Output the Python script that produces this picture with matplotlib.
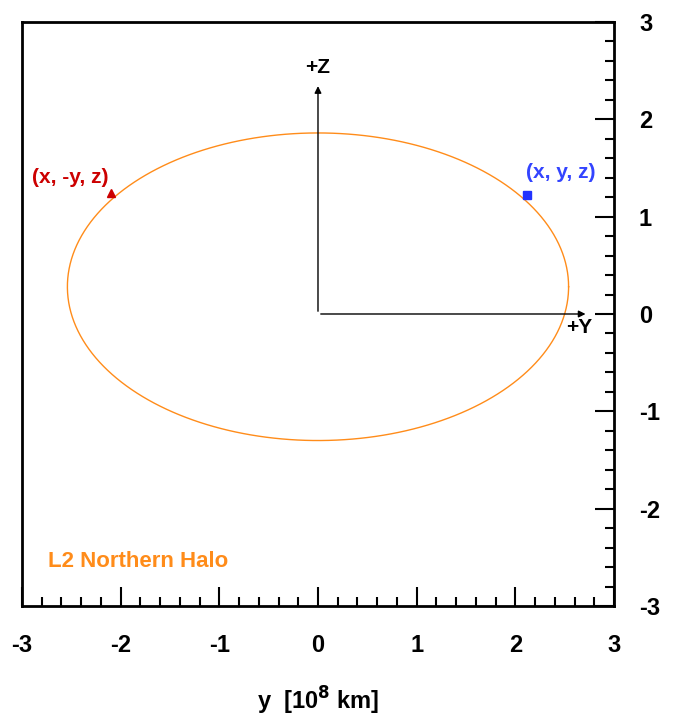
import numpy as np
import matplotlib.pyplot as plt
from matplotlib.ticker import MultipleLocator

# halo orbit geometry (units of 10^8 km)
center_y, center_z = 0.0, 0.28
semi_y, semi_z = 2.54, 1.58
point_pos = (2.12, 1.22)
point_neg = (-2.10, 1.24)
axis_len_y, axis_len_z = 2.74, 2.37

orange = '#ff8c1a'
plt.rcParams['font.family'] = 'Liberation Sans'
plt.rcParams['font.weight'] = 'bold'
plt.rcParams['axes.unicode_minus'] = False

fig = plt.figure(figsize=(6.73, 7.21), dpi=100)
ax = fig.add_axes([0.0327, 0.1595, 0.8796, 0.81])

t = np.linspace(0, 2 * np.pi, 400)
ax.plot(center_y + semi_y * np.cos(t), center_z + semi_z * np.sin(t),
        color=orange, lw=1.0)

ax.plot(*point_pos, marker='s', color='#2233ff', ms=6, ls='none')
ax.plot(*point_neg, marker='^', color='#cc0000', ms=6, ls='none')

arrow = dict(arrowstyle='-|>', color='black', lw=1.0, mutation_scale=10)
ax.annotate('', xy=(axis_len_y, 0), xytext=(0, 0), arrowprops=arrow)
ax.annotate('', xy=(0, axis_len_z), xytext=(0, 0), arrowprops=arrow)
ax.text(0, 2.53, '+Z', ha='center', va='center', fontsize=15)
ax.text(2.65, -0.14, '+Y', ha='center', va='center', fontsize=15)

ax.text(-2.51, 1.40, '(x, -y, z)', color='#cc0000', ha='center', va='center',
        fontsize=15)
ax.text(2.46, 1.45, '(x, y, z)', color='#3344ff', ha='center', va='center',
        fontsize=15)
ax.text(-2.74, -2.54, 'L2 Northern Halo', color=orange, ha='left',
        va='center', fontsize=16)

ax.set_xlim(-3, 3)
ax.set_ylim(-3, 3)
ax.xaxis.set_major_locator(MultipleLocator(1))
ax.xaxis.set_minor_locator(MultipleLocator(0.2))
ax.yaxis.set_major_locator(MultipleLocator(1))
ax.yaxis.set_minor_locator(MultipleLocator(0.2))
ax.yaxis.tick_right()
ax.tick_params(which='both', direction='in', width=1.5, labelsize=17)
ax.tick_params(which='major', length=14)
ax.tick_params(which='minor', length=6.5)
ax.tick_params(axis='x', pad=20)
ax.tick_params(axis='y', pad=18)
for s in ax.spines.values():
    s.set_linewidth(2)

ax.set_xlabel('y  [10$^{8}$ km]', fontsize=17, fontweight='bold', labelpad=20)

fig.savefig('out.png', dpi=100)
